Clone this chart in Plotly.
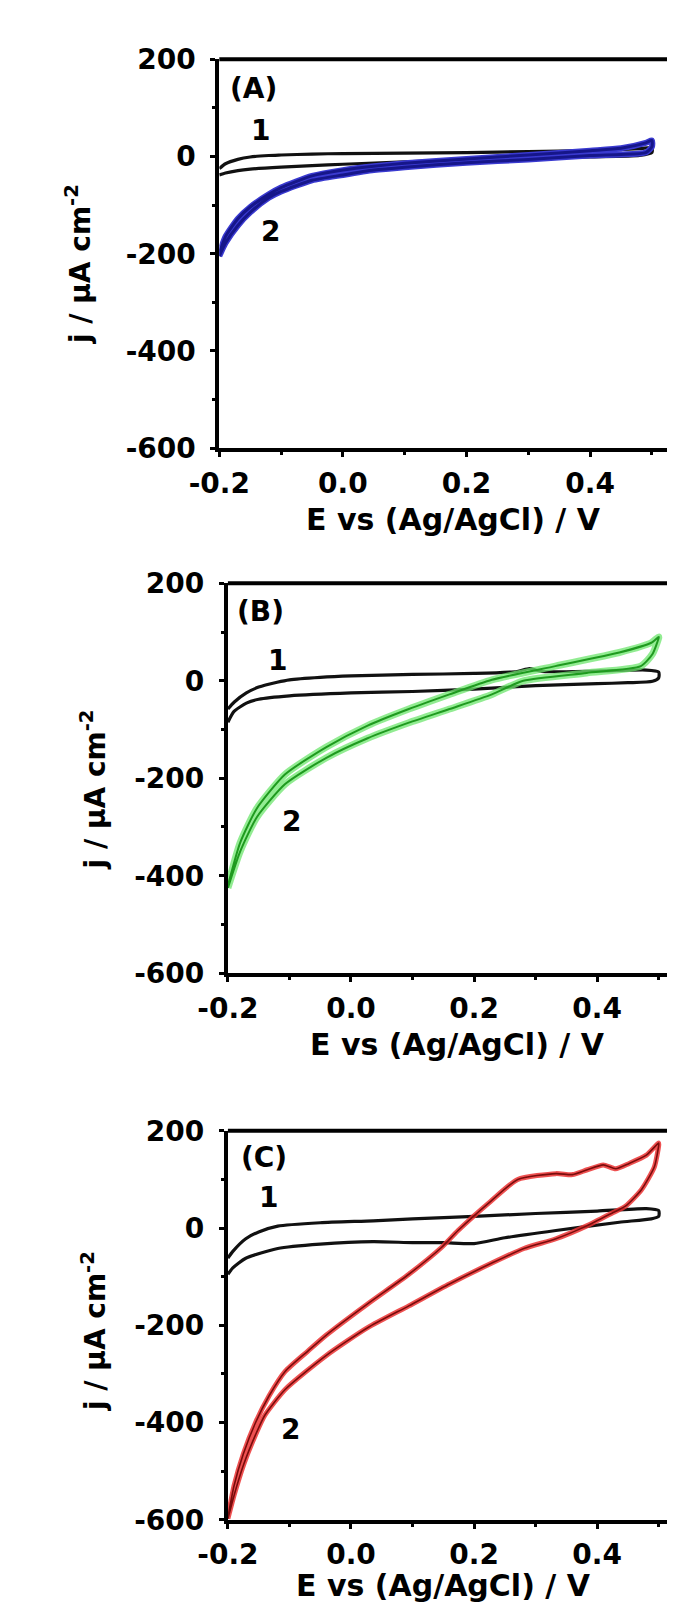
import plotly.graph_objects as go

# ---------------- data ----------------
# Panel A
A1_E_fwd = [-0.2, -0.19, -0.17, -0.15, -0.12, -0.1, -0.05, 0.0, 0.1, 0.2, 0.3, 0.4, 0.48, 0.5]
A1_j_fwd = [-25, -15, -6, -1, 2, 3, 5, 6, 7, 8, 10, 12, 16, 18]
A1_E_rev = [0.5, 0.48, 0.4, 0.3, 0.2, 0.1, 0.0, -0.05, -0.1, -0.15, -0.17, -0.19, -0.2]
A1_j_rev = [8, 2, -1, -4, -7, -11, -16, -19, -22, -26, -29, -34, -38]

A2_E_fwd = [-0.2, -0.19, -0.17, -0.15, -0.12, -0.1, -0.05, 0.0, 0.05, 0.1, 0.2, 0.3, 0.4, 0.45, 0.49, 0.5]
A2_j_fwd = [-200, -165, -128, -104, -78, -64, -40, -28, -20, -14, -5, 3, 12, 17, 28, 33]
A2_E_rev = [0.5, 0.49, 0.45, 0.4, 0.3, 0.2, 0.1, 0.05, 0.0, -0.05, -0.1, -0.12, -0.15, -0.17, -0.19, -0.2]
A2_j_rev = [20, 8, 4, 2, -6, -13, -22, -28, -38, -49, -72, -85, -115, -142, -178, -205]

# Panel B
B1_E_fwd = [-0.2, -0.19, -0.17, -0.15, -0.12, -0.1, -0.05, 0.0, 0.1, 0.2, 0.27, 0.29, 0.31, 0.4, 0.48, 0.5]
B1_j_fwd = [-58, -44, -25, -13, -3, 2, 7, 10, 13, 15, 19, 25, 19, 20, 22, 18]
B1_E_rev = [0.5, 0.49, 0.45, 0.4, 0.3, 0.2, 0.1, 0.0, -0.1, -0.15, -0.17, -0.19, -0.2]
B1_j_rev = [6, -1, -4, -6, -10, -17, -22, -25, -31, -38, -46, -63, -85]

B2_E_fwd = [-0.2, -0.18, -0.153, -0.107, -0.04, 0.027, 0.094, 0.16, 0.229, 0.332, 0.436, 0.488, 0.5]
B2_j_fwd = [-420, -332, -262, -192, -136, -92, -58, -28, 2, 30, 58, 78, 90]
B2_E_rev = [0.5, 0.49, 0.471, 0.383, 0.28, 0.229, 0.16, 0.094, 0.027, -0.04, -0.107, -0.153, -0.18, -0.2]
B2_j_rev = [88, 55, 30, 16, 0, -28, -58, -86, -118, -158, -212, -280, -350, -425]

# Panel C
C1_E_fwd = [-0.2, -0.192, -0.171, -0.15, -0.119, -0.05, 0.036, 0.1, 0.2, 0.3, 0.4, 0.48, 0.5]
C1_j_fwd = [-62, -48, -22, -8, 4, 11, 15, 19, 24, 30, 35, 40, 36]
C1_E_rev = [0.5, 0.488, 0.436, 0.333, 0.25, 0.2, 0.15, 0.1, 0.036, -0.05, -0.119, -0.171, -0.192, -0.2]
C1_j_rev = [24, 19, 12, -5, -20, -32, -30, -30, -28, -33, -42, -62, -82, -95]

C2_E_fwd = [-0.2, -0.19, -0.175, -0.155, -0.133, -0.107, -0.07, -0.04, 0.027, 0.094, 0.147, 0.174, 0.227, 0.271,
            0.333, 0.36, 0.384, 0.41, 0.43, 0.452, 0.48, 0.5]
C2_j_fwd = [-595, -530, -465, -400, -345, -295, -253, -220, -156, -95, -40, -5, 55, 100,
            112, 110, 120, 130, 122, 133, 150, 175]
C2_E_rev = [0.5, 0.493, 0.472, 0.446, 0.426, 0.384, 0.333, 0.281, 0.229, 0.16, 0.094, 0.027,
            -0.04, -0.107, -0.14, -0.155, -0.174, -0.19, -0.2]
C2_j_rev = [170, 126, 79, 45, 32, 5, -22, -42, -72, -115, -160, -205,
            -262, -332, -385, -425, -485, -550, -598]

y_tickvals = [200, 0, -200, -400, -600]
y_ticktext = ["200", "0", "-200", "-400", "-600"]
x_tickvals = [-0.2, 0.0, 0.2, 0.4]
x_ticktext = ["-0.2", "0.0", "0.2", "0.4"]
panel_labels = ["(A)", "(B)", "(C)"]
curve_labels = ["1", "2"]
x_title = "E vs (Ag/AgCl) / V"
y_title = "j / μA cm<sup>-2</sup>"

# ---------------- layout geometry ----------------
W, H = 675, 1611
FONT = "DejaVu Sans"

def px(x):
    return x / W

def py(y):
    return 1 - y / H

panels = [
    dict(x0=189, x1=669, y0=36, y1=433, xmax=0.541, right=True),
    dict(x0=198, x1=675, y0=571, y1=969, xmax=0.5395, right=False),
    dict(x0=198, x1=675, y0=1130, y1=1527, xmax=0.5395, right=False),
]

fig = go.Figure()

def loop(Ef, jf, Er, jr):
    return Ef + Er, jf + jr

curves = [
    [(A1_E_fwd, A1_j_fwd, A1_E_rev, A1_j_rev, "black"),
     (A2_E_fwd, A2_j_fwd, A2_E_rev, A2_j_rev, "blue")],
    [(B1_E_fwd, B1_j_fwd, B1_E_rev, B1_j_rev, "black"),
     (B2_E_fwd, B2_j_fwd, B2_E_rev, B2_j_rev, "green")],
    [(C1_E_fwd, C1_j_fwd, C1_E_rev, C1_j_rev, "black"),
     (C2_E_fwd, C2_j_fwd, C2_E_rev, C2_j_rev, "red")],
]

styles = {
    "black": [("#111111", 3.2)],
    "blue": [("#3a3ad0", 6), ("#16168a", 3)],
    "green": [("rgba(110,230,110,0.75)", 7), ("#1f9a1f", 2)],
    "red": [("rgba(235,50,50,0.85)", 5), ("#7a0c0c", 1.6)],
}

for i, p in enumerate(panels):
    n = "" if i == 0 else str(i + 1)
    xa, ya = "x" + n, "y" + n
    for (Ef, jf, Er, jr, kind) in curves[i]:
        E, j = loop(Ef, jf, Er, jr)
        for color, w in styles[kind]:
            fig.add_trace(go.Scatter(x=E, y=j, mode="lines", xaxis=xa, yaxis=ya,
                                     line=dict(color=color, width=w, shape="spline", smoothing=0.6),
                                     showlegend=False, hoverinfo="skip"))

    axis_font = dict(family=FONT, size=28, color="black", weight="bold")
    fig.layout["xaxis" + n] = dict(
        domain=[px(p["x0"]), px(p["x1"])], anchor=ya, range=[-0.2, p["xmax"]],
        showline=True, linewidth=4, linecolor="black", mirror=False,
        showgrid=False, zeroline=False,
        tickvals=x_tickvals, ticktext=x_ticktext, ticks="outside", ticklen=5, tickwidth=3,
        tickcolor="black", tickfont=axis_font, ticklabelstandoff=2,
        minor=dict(ticks="outside", ticklen=3, tickwidth=3, dtick=0.1, tick0=-0.2, tickcolor="black"),
    )
    fig.layout["yaxis" + n] = dict(
        domain=[py(p["y1"]), py(p["y0"])], anchor=xa, range=[-600, 200],
        showline=True, linewidth=4, linecolor="black", mirror=False,
        showgrid=False, zeroline=False,
        tickvals=y_tickvals, ticktext=y_ticktext, ticks="outside", ticklen=5, tickwidth=3,
        tickcolor="black", tickfont=axis_font, ticklabelstandoff=9,
        minor=dict(ticks="outside", ticklen=3, tickwidth=3, dtick=100, tick0=0, tickcolor="black"),
    )
    # top frame line (and right for A)
    fig.add_shape(type="line", xref=xa + " domain", yref=ya + " domain",
                  x0=0, x1=1.01, y0=1, y1=1, line=dict(color="black", width=4))
    if p["right"]:
        fig.add_shape(type="line", xref=xa + " domain", yref=ya + " domain",
                      x0=1, x1=1, y0=0, y1=1, line=dict(color="black", width=4))

# annotations: panel labels, curve numbers, axis titles
lab_pos = [(225, 66), (232, 600), (236, 1157)]
one_pos = [(232, 109), (250, 650), (241, 1198)]
two_pos = [(243, 212), (265, 814), (264, 1435)]
xt_pos = [(434, 506), (439, 1042), (424, 1594)]
yt_pos = [(42, 245), (57, 781), (58, 1334)]

def note(x, y, text, size, angle=0):
    fig.add_annotation(x=px(x), y=py(y), xref="paper", yref="paper", text=text,
                       showarrow=False, textangle=angle, xanchor="center", yanchor="middle",
                       font=dict(family=FONT, size=size, color="black", weight="bold"))

for i in range(3):
    note(*lab_pos[i], panel_labels[i], 28)
    note(*one_pos[i], curve_labels[0], 28)
    note(*two_pos[i], curve_labels[1], 28)
    note(*xt_pos[i], x_title, 30)
    note(*yt_pos[i], y_title, 28, angle=-90)

fig.update_layout(width=W, height=H, margin=dict(l=0, r=0, t=0, b=0),
                  paper_bgcolor="white", plot_bgcolor="white", showlegend=False)

fig.write_html("out.html")
